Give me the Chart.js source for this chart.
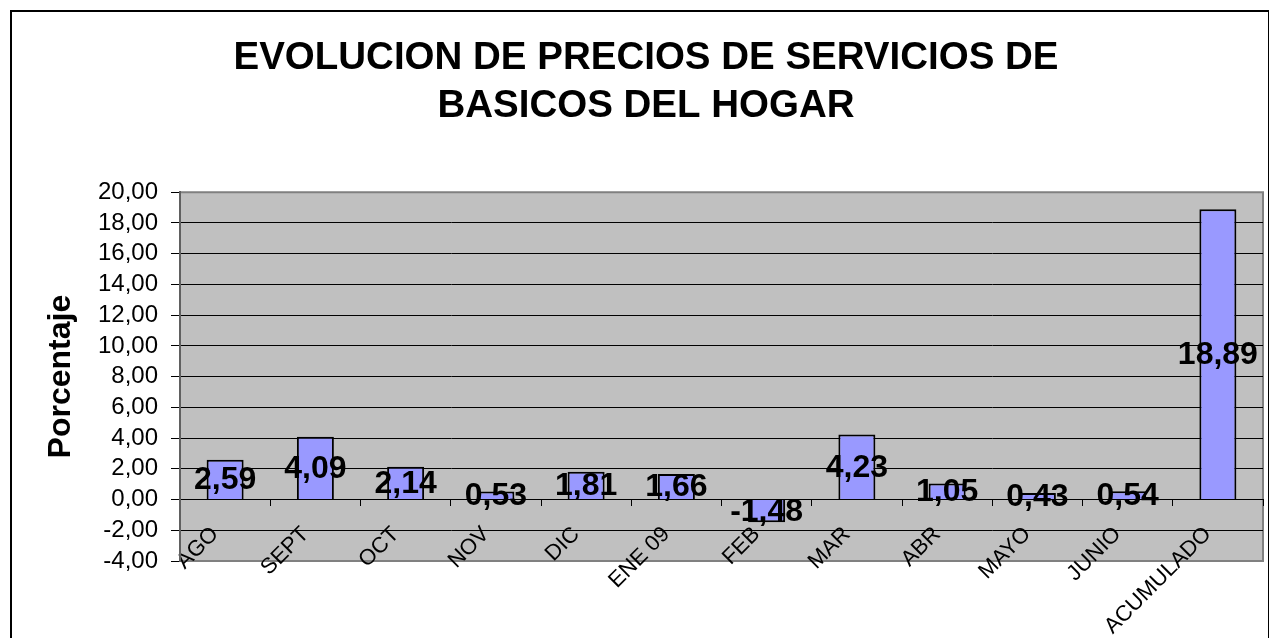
<!DOCTYPE html>
<html>
<head>
<meta charset="utf-8">
<script src="https://cdn.jsdelivr.net/npm/chart.js@4/dist/chart.umd.min.js"></script>
<style>
    html, body { margin: 0; padding: 0; background: #fff; overflow: hidden; }
    #frame {
        position: absolute; left: 10px; top: 10px;
        width: 1256px; height: 700px;
        border: 2px solid #000;
    }
    #chart { position: absolute; left: 0; top: 0; }
</style>
</head>
<body>
<div id="frame">
    <canvas id="chart" width="1268" height="640"></canvas>
</div>
<script>
// ======================================
// Data
// ======================================

const months =
    ["AGO", "SEPT", "OCT", "NOV", "DIC", "ENE 09", "FEB", "MAR", "ABR", "MAYO", "JUNIO", "ACUMULADO"];

const variation =
    [2.59, 4.09, 2.14, 0.53, 1.81, 1.66, -1.48, 4.23, 1.05, 0.43, 0.54, 18.89];

const chartTitle =
    ["EVOLUCION DE PRECIOS DE SERVICIOS DE", "BASICOS DEL HOGAR"];

const yTitle = "Porcentaje";

const yMin = -4;
const yMax = 20;
const yStep = 2;

// ======================================
// Helpers
// ======================================

function decimalComma(v) {
    return v.toFixed(2).replace(".", ",");
}

// grey plot background + border
const plotArea = {
    id: "plotArea",
    beforeDraw(chart) {
        const { ctx, chartArea: a } = chart;
        ctx.save();
        ctx.fillStyle = "#c0c0c0";
        ctx.fillRect(a.left, a.top, a.right - a.left, a.bottom - a.top);
        ctx.strokeStyle = "#808080";
        ctx.lineWidth = 2;
        ctx.strokeRect(a.left, a.top, a.right - a.left, a.bottom - a.top);
        ctx.restore();
    }
};

// value labels in the middle of each bar
const barValues = {
    id: "barValues",
    afterDatasetsDraw(chart) {
        const ctx = chart.ctx;
        const meta = chart.getDatasetMeta(0);
        ctx.save();
        ctx.font = "bold 32px 'Liberation Sans', Arial, sans-serif";
        ctx.fillStyle = "#000";
        ctx.textAlign = "center";
        ctx.textBaseline = "middle";
        meta.data.forEach((bar, i) => {
            const v = chart.data.datasets[0].data[i];
            ctx.fillText(decimalComma(v), bar.x, (bar.y + bar.base) / 2 + 1);
        });
        ctx.restore();
    }
};

// ======================================
// Chart
// ======================================

new Chart(document.getElementById("chart"), {
    type: "bar",
    data: {
        labels: months,
        datasets: [{
            data: variation,
            backgroundColor: "#9999ff",
            borderColor: "#000",
            borderWidth: 2,
            categoryPercentage: 1,
            barPercentage: 0.41
        }]
    },
    options: {
        responsive: false,
        animation: false,
        layout: { padding: { left: 17, right: 17, top: 0, bottom: 91 } },
        plugins: {
            legend: { display: false },
            tooltip: { enabled: false },
            title: {
                display: true,
                text: chartTitle,
                color: "#000",
                font: { family: "'Liberation Sans', Arial, sans-serif", size: 38.5, weight: "bold", lineHeight: 1.25 },
                padding: { top: 22, bottom: 62 }
            }
        },
        scales: {
            x: {
                position: { y: 0 },
                grid: { drawOnChartArea: false, drawTicks: true, tickLength: 6, color: "#000" },
                border: { display: true, color: "#000", width: 1 },
                ticks: {
                    color: "#000",
                    minRotation: 45,
                    maxRotation: 45,
                    autoSkip: false,
                    padding: 16,
                    labelOffset: -10,
                    font: { family: "'Liberation Sans', Arial, sans-serif", size: 22 }
                }
            },
            y: {
                min: yMin,
                max: yMax,
                afterFit(scale) { scale.width = 151; },
                grid: {
                    color: (c) => (c.tick && (c.tick.value === yMax || c.tick.value === yMin)) ? "#808080" : "#000",
                    tickColor: "#000",
                    tickLength: 9,
                    lineWidth: 1
                },
                border: { display: true, color: "#606060", width: 2 },
                ticks: {
                    stepSize: yStep,
                    autoSkip: false,
                    color: "#000",
                    padding: 13,
                    font: { family: "'Liberation Sans', Arial, sans-serif", size: 24, lineHeight: 1 },
                    callback: (v) => decimalComma(v)
                },
                title: {
                    display: true,
                    text: yTitle,
                    color: "#000",
                    padding: { top: 13 },
                    font: { family: "'Liberation Sans', Arial, sans-serif", size: 32, weight: "bold" }
                }
            }
        }
    },
    plugins: [plotArea, barValues]
});
</script>
</body>
</html>
